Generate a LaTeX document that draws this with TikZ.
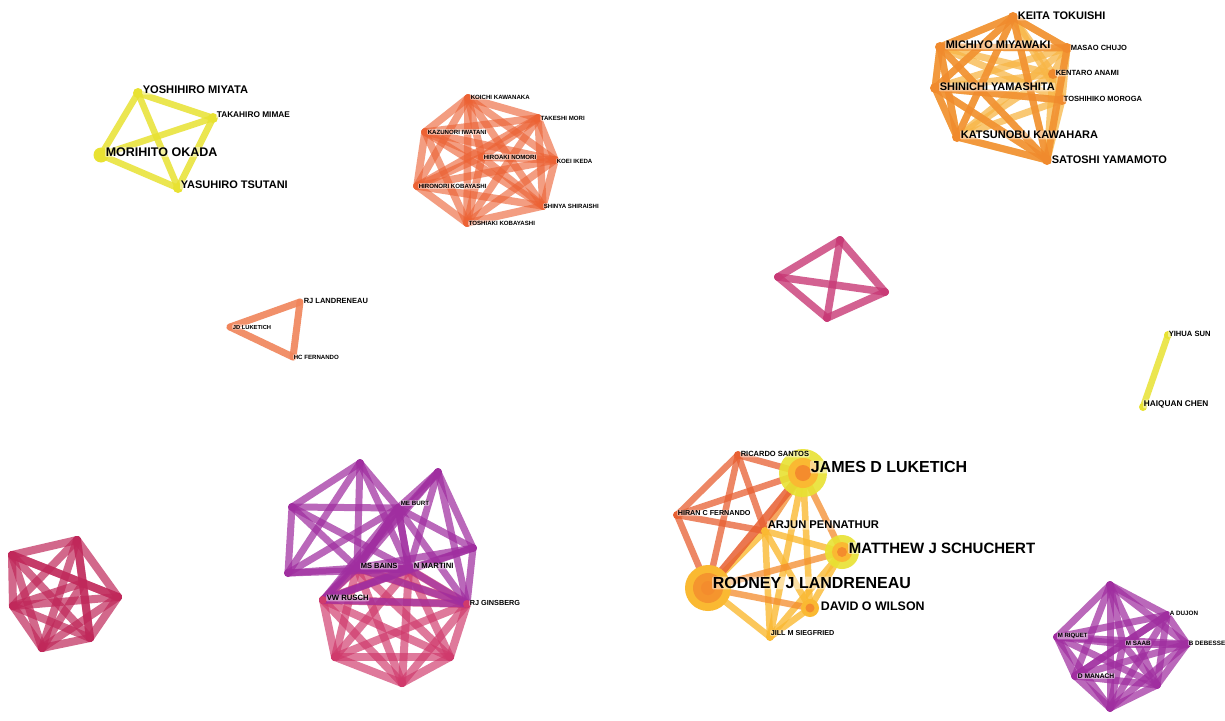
\documentclass[tikz,border=0pt]{standalone}
\usepackage{fontspec}
\setmainfont{Liberation Sans}
\newcommand{\lfs}[1]{\fontsize{#1}{#1}\selectfont}
\newcommand{\clique}[2]{%
  \foreach \a [count=\i] in {#2}{%
    \foreach \b [count=\j] in {#2}{%
      \ifnum\j>\i \draw[#1] (\a) -- (\b);\fi
    }}}
\definecolor{cyel}{RGB}{232,226,50}
\definecolor{corg}{RGB}{236,98,52}
\definecolor{cord}{RGB}{240,138,45}
\definecolor{corl}{RGB}{248,182,70}
\definecolor{ctri}{RGB}{240,132,90}
\definecolor{cdia}{RGB}{200,58,118}
\definecolor{ccri}{RGB}{192,40,90}
\definecolor{cpnk}{RGB}{208,58,108}
\definecolor{cpur}{RGB}{160,46,160}
\definecolor{cred}{RGB}{232,96,50}
\definecolor{cmor}{RGB}{244,140,45}
\definecolor{cpal}{RGB}{250,185,50}
\begin{document}
\begin{tikzpicture}[x=1pt,y=-1pt,
  lab/.style={anchor=west, font=\bfseries\lfs{#1}, inner sep=0.6pt, fill=white, fill opacity=0.45, text opacity=1, rounded corners=1pt},
  yed/.style={cyel, line width=6.5pt, opacity=0.85, line cap=round},
  oed/.style={corg, line width=7.5pt, opacity=0.62, line cap=round},
  dked/.style={cord, line width=7pt, opacity=0.75, line cap=round},
  lted/.style={corl, line width=7pt, opacity=0.75, line cap=round},
  tred/.style={ctri, line width=7pt, opacity=0.9, line cap=round},
  died/.style={cdia, line width=7.5pt, opacity=0.8, line cap=round},
  cred7/.style={ccri, line width=8pt, opacity=0.7, line cap=round},
  pked/.style={cpnk, line width=8pt, opacity=0.68, line cap=round},
  pued/.style={cpur, line width=7pt, opacity=0.72, line cap=round},
  rded/.style={cred, line width=6.5pt, opacity=0.75, line cap=round},
  moed/.style={cmor, line width=6.5pt, opacity=0.75, line cap=round},
  paed/.style={cpal, line width=6.5pt, opacity=0.8, line cap=round}]
\useasboundingbox (0,0) rectangle (1225,720);
\fill[white] (0,0) rectangle (1225,720);

% ---------- yellow cluster ----------
\coordinate (miy) at (138,93);
\coordinate (mim) at (213,118);
\coordinate (oka) at (101,155);
\coordinate (tsu) at (178,188);
\clique{yed}{miy,mim,oka,tsu}
\foreach \n in {miy,mim,tsu} \fill[cyel] (\n) circle (5);
\fill[cyel] (oka) circle (7.5);
\node[lab=11.1] (Lmiy) at (142,90) {YOSHIHIRO MIYATA};
\node[lab=8.3] (Lmim) at (216,115) {TAKAHIRO MIMAE};
\node[lab=12.5] (Loka) at (105,152) {MORIHITO OKADA};
\node[lab=11] (Ltsu) at (180,185) {YASUHIRO TSUTANI};

% ---------- orange cluster (top middle) ----------
\coordinate (kaw) at (468,98);
\coordinate (mor) at (538,118);
\coordinate (iwa) at (425,132);
\coordinate (nom) at (482,157);
\coordinate (ike) at (555,160);
\coordinate (hko) at (417,186);
\coordinate (shi) at (543,206);
\coordinate (tko) at (467,223);
\clique{oed}{kaw,mor,iwa,nom,ike,hko,shi,tko}
\node[lab=6.1] (Lkaw) at (470,97) {KOICHI KAWANAKA};
\node[lab=6.1] (Lmor) at (540,118) {TAKESHI MORI};
\node[lab=6.1] (Liwa) at (427,132) {KAZUNORI IWATANI};
\node[lab=6.1] (Lnom) at (483,157) {HIROAKI NOMORI};
\node[lab=6.1] (Like) at (556,161) {KOEI IKEDA};
\node[lab=6.1] (Lhko) at (418,186) {HIRONORI KOBAYASHI};
\node[lab=6.1] (Lshi) at (543,206) {SHINYA SHIRAISHI};
\node[lab=6.1] (Ltko) at (468,223) {TOSHIAKI KOBAYASHI};

% ---------- orange cluster (top right) ----------
\coordinate (kei) at (1013,17);
\coordinate (mic) at (940,47);
\coordinate (cju) at (1067,48);
\coordinate (ana) at (1053,74);
\coordinate (yam) at (935,88);
\coordinate (mrg) at (1062,100);
\coordinate (kat) at (957,137);
\coordinate (sat) at (1047,160);
\clique{lted}{kei,mic,cju,ana,yam,mrg,kat,sat}
\clique{dked}{kei,mic,yam,kat,sat}
\foreach \a/\b in {kei/cju,cju/sat,mic/cju,yam/mrg}
  \draw[dked] (\a) -- (\b);
\foreach \n in {kei,mic,cju,ana,yam,mrg,kat,sat} \fill[cord] (\n) circle (5);
\node[lab=11] (Lkei) at (1017,16) {KEITA TOKUISHI};
\node[lab=11] (Lmic) at (945,45) {MICHIYO MIYAWAKI};
\node[lab=7.5] (Lcju) at (1070,48) {MASAO CHUJO};
\node[lab=7.5] (Lana) at (1055,73) {KENTARO ANAMI};
\node[lab=11] (Lyam) at (939,87) {SHINICHI YAMASHITA};
\node[lab=7.5] (Lmrg) at (1063,99) {TOSHIHIKO MOROGA};
\node[lab=11] (Lkat) at (960,135) {KATSUNOBU KAWAHARA};
\node[lab=11] (Lsat) at (1051,160) {SATOSHI YAMAMOTO};

% ---------- triangle ----------
\coordinate (rjl) at (300,302);
\coordinate (jdl) at (230,327);
\coordinate (hcf) at (293,357);
\clique{tred}{rjl,jdl,hcf}
\node[lab=7.5] (Lrjl) at (303,301) {RJ LANDRENEAU};
\node[lab=5.8] (Ljdl) at (232,327) {JD LUKETICH};
\node[lab=6.1] (Lhcf) at (293,357) {HC FERNANDO};

% ---------- diamond ----------
\coordinate (d1) at (840,240);
\coordinate (d2) at (778,277);
\coordinate (d3) at (885,292);
\coordinate (d4) at (827,318);
\clique{died}{d1,d2,d3,d4}
\foreach \n in {d1,d2,d3,d4} \fill[cdia] (\n) circle (4);

% ---------- yihua sun ----------
\coordinate (ysu) at (1168,335);
\coordinate (hch) at (1143,407);
\draw[yed] (ysu) -- (hch);
\fill[cyel] (ysu) circle (4);
\fill[cyel] (hch) circle (4);
\node[lab=7.6] (Lysu) at (1168,334) {YIHUA SUN};
\node[lab=8.3] (Lhch) at (1143,404) {HAIQUAN CHEN};

% ---------- crimson heptagon (bottom left) ----------
\coordinate (h1) at (77,540);
\coordinate (h2) at (12,555);
\coordinate (h3) at (83,583);
\coordinate (h4) at (118,597);
\coordinate (h5) at (13,606);
\coordinate (h6) at (90,638);
\coordinate (h7) at (42,648);
\clique{cred7}{h1,h2,h3,h4,h5,h6,h7}
\foreach \n in {h1,h2,h3,h4,h5,h6,h7} \fill[ccri] (\n) circle (4);

% ---------- purple / pink group ----------
\coordinate (top) at (360,463);
\coordinate (lft) at (292,507);
\coordinate (blf) at (288,573);
\coordinate (burt) at (398,508);
\coordinate (peak) at (438,472);
\coordinate (rgt) at (473,548);
\coordinate (bains) at (357,568);
\coordinate (mart) at (409,569);
\coordinate (rus) at (323,600);
\coordinate (gins) at (467,604);
\coordinate (pr) at (450,657);
\coordinate (pb) at (402,683);
\coordinate (pl) at (335,657);
\clique{pked}{rus,bains,mart,gins,pr,pb,pl}
\clique{pued}{top,lft,blf,burt,bains,mart}
\clique{pued}{peak,rgt,burt,bains,mart,gins,rus}
\foreach \n in {rus,gins,pr,pb,pl} \fill[cpnk] (\n) circle (4);
\foreach \n in {top,lft,blf,burt,peak,rgt,bains,mart} \fill[cpur] (\n) circle (4);
\node[lab=6.2] (Lburt) at (400,503) {ME BURT};
\node[lab=7.5] (Lbains) at (360,566) {MS BAINS};
\node[lab=7.7] (Lmart) at (413,566) {N MARTINI};
\node[lab=7.7] (Lrus) at (326,598) {VW RUSCH};
\node[lab=7.3] (Lgins) at (469,603) {RJ GINSBERG};

% ---------- bottom middle cluster ----------
\coordinate (ric) at (738,455);
\coordinate (jam) at (803,473);
\coordinate (hir) at (677,515);
\coordinate (arj) at (765,531);
\coordinate (mat) at (842,552);
\coordinate (rod) at (708,588);
\coordinate (dav) at (810,608);
\coordinate (jil) at (770,637);
\foreach \a/\b in {jam/dav,jam/jil,arj/mat,arj/jil,arj/dav,arj/rod,mat/dav,mat/jil,dav/jil,rod/jil}
  \draw[paed] (\a) -- (\b);
\foreach \a/\b in {jam/arj,jam/mat,rod/mat,rod/dav}
  \draw[moed] (\a) -- (\b);
\foreach \a/\b in {ric/hir,ric/jam,ric/rod,ric/arj,hir/jam,hir/rod,hir/arj}
  \draw[rded] (\a) -- (\b);
\draw[rded, line width=8.5pt, opacity=0.85] (jam) -- (rod);
\fill[cyel, opacity=0.9] (jam) circle (24);
\fill[cpal] (jam) circle (15);
\fill[cmor] (jam) circle (8);
\fill[cyel, opacity=0.9] (mat) circle (17);
\fill[cpal] (mat) circle (10);
\fill[cmor] (mat) circle (5);
\fill[cpal] (rod) circle (23);
\fill[cmor!80!cpal] (rod) circle (15);
\fill[cmor] (rod) circle (7);
\fill[cpal] (dav) circle (9);
\fill[cmor] (dav) circle (4.5);
\foreach \n in {ric,hir} \fill[cred] (\n) circle (4);
\foreach \n in {arj,jil} \fill[cpal] (\n) circle (4);
\node[lab=7.5] (Lric) at (740,454) {RICARDO SANTOS};
\node[lab=16] (Ljam) at (810,467) {JAMES D LUKETICH};
\node[lab=7.2] (Lhir) at (677,513) {HIRAN C FERNANDO};
\node[lab=11.2] (Larj) at (767,525) {ARJUN PENNATHUR};
\node[lab=15] (Lmat) at (848,548) {MATTHEW J SCHUCHERT};
\node[lab=16] (Lrod) at (712,583) {RODNEY J LANDRENEAU};
\node[lab=12.4] (Ldav) at (820,606) {DAVID O WILSON};
\node[lab=7.2] (Ljil) at (770,633) {JILL M SIEGFRIED};

% ---------- bottom right cluster ----------
\coordinate (q1) at (1110,585);
\coordinate (duj) at (1167,615);
\coordinate (riq) at (1057,637);
\coordinate (saa) at (1123,644);
\coordinate (deb) at (1187,644);
\coordinate (man) at (1075,676);
\coordinate (q7) at (1157,685);
\coordinate (q8) at (1110,708);
\clique{pued}{q1,duj,riq,saa,deb,man,q7,q8}
\foreach \n in {q1,duj,riq,saa,deb,man,q7,q8} \fill[cpur] (\n) circle (4);
\node[lab=6.3] (Lduj) at (1169,613) {A DUJON};
\node[lab=6.1] (Lriq) at (1057,636) {M RIQUET};
\node[lab=6.3] (Lsaa) at (1125,643) {M SAAB};
\node[lab=6.3] (Ldeb) at (1188,643) {B DEBESSE};
\node[lab=6.7] (Lman) at (1077,676) {D MANACH};
\end{tikzpicture}
\end{document}
